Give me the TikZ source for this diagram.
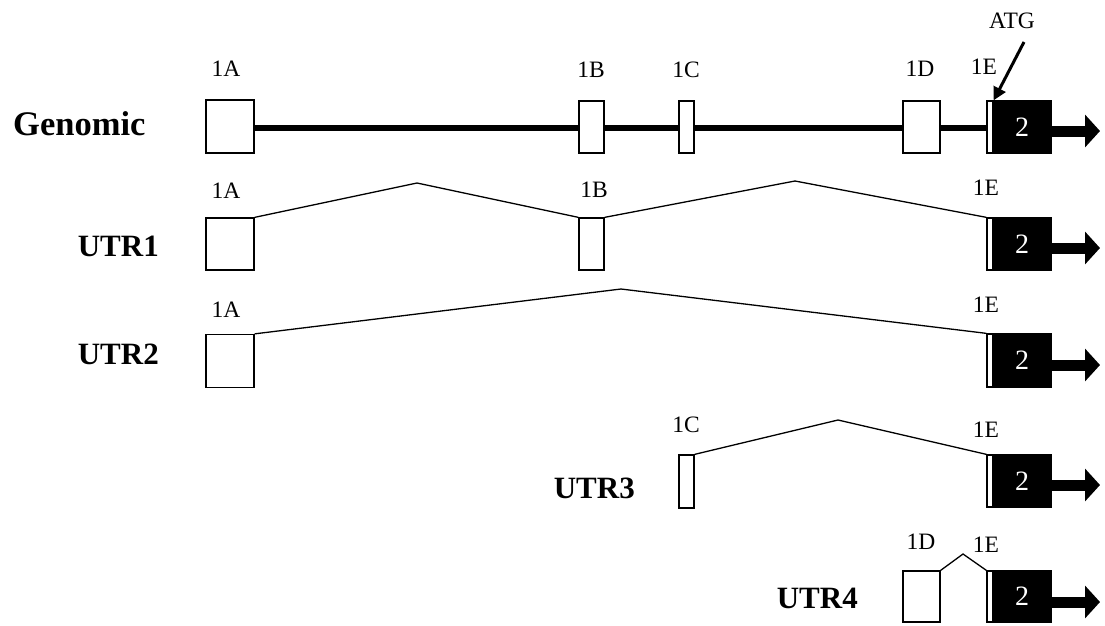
\documentclass[tikz,border=0pt]{standalone}
\usepackage{fontspec}
\setmainfont{Liberation Serif}
\usetikzlibrary{arrows.meta}
\begin{document}
\begin{tikzpicture}[x=1pt,y=-1pt,
  exon/.style={draw,fill=white,line width=1.3pt,inner sep=0pt,minimum width=#1},
  coding/.style={draw,fill=black,line width=1.3pt,inner sep=0pt,minimum width=58pt,text=white,font=\fontsize{28}{28}\selectfont},
  lbl/.style={anchor=base,inner sep=0pt,font=\fontsize{23.5}{23.5}\selectfont},
  rowlbl/.style={anchor=base east,inner sep=0pt,font=\fontsize{31}{31}\selectfont\bfseries},
  intron/.style={line width=1.3pt},
  fwd/.style={line width=11pt,-{Triangle[length=15pt,width=32pt]}}]
\useasboundingbox (0,0) rectangle (1105,625);

% ---------------- Genomic ----------------
\node[rowlbl,anchor=base west,font=\fontsize{34.5}{34.5}\selectfont\bfseries] (tG) at (13,135) {Genomic};
\begin{scope}[every node/.append style={minimum height=52pt}]
\node[exon=48pt,minimum height=53pt] (g1A) at (230,126.5) {};
\node[exon=25pt] (g1B) at (591.5,127) {};
\node[exon=15pt] (g1C) at (686.5,127) {};
\node[exon=37pt] (g1D) at (921.5,127) {};
\node[exon=6pt] (g1E) at (990,127) {};
\node[coding] (g2) at (1022,127) {2};
\end{scope}
\draw[line width=6pt] (g1A.east |- 0,128) -- (g1B.west |- 0,128);
\draw[line width=6pt] (g1B.east |- 0,128) -- (g1C.west |- 0,128);
\draw[line width=6pt] (g1C.east |- 0,128) -- (g1D.west |- 0,128);
\draw[line width=6pt] (g1D.east |- 0,128) -- (g1E.west |- 0,128);
\coordinate (gtip) at (1100,131);
\draw[fwd] (g2.east |- gtip) -- (gtip);
\node[lbl] (lg1A) at (226,76) {1A};
\node[lbl] (lg1B) at (591,77) {1B};
\node[lbl] (lg1C) at (686,77) {1C};
\node[lbl] (lg1D) at (920,76) {1D};
\node[lbl] (lg1E) at (984,74) {1E};
\node[lbl] (atg) at (1012,28) {ATG};
\coordinate (atgstart) at (1024,42);
\draw[line width=3pt,-{Triangle[length=13pt,width=13pt]}] (atgstart) -- (g1E.north east);

% ---------------- UTR1 ----------------
\node[rowlbl] (t1) at (159,256) {UTR1};
\begin{scope}[every node/.append style={minimum height=52pt}]
\node[exon=48pt] (u1A) at (230,244) {};
\node[exon=25pt] (u1B) at (591.5,244) {};
\node[exon=6pt] (u1E) at (990,244) {};
\node[coding] (u12) at (1022,244) {2};
\end{scope}
\coordinate (p1a) at (417,183);
\coordinate (p1b) at (795,181);
\draw[intron] (u1A.north east) -- (p1a) -- (u1B.north west);
\draw[intron] (u1B.north east) -- (p1b) -- (u1E.north west);
\coordinate (u1tip) at (1100,248);
\draw[fwd] (u12.east |- u1tip) -- (u1tip);
\node[lbl] (l11A) at (226,198) {1A};
\node[lbl] (l11B) at (594,197) {1B};
\node[lbl] (l11E) at (986,195) {1E};

% ---------------- UTR2 ----------------
\node[rowlbl] (t2) at (159,364) {UTR2};
\begin{scope}[every node/.append style={minimum height=53pt}]
\node[exon=48pt] (u2A) at (230,361) {};
\node[exon=6pt] (u2E) at (990,360.5) {};
\node[coding] (u22) at (1022,360.5) {2};
\end{scope}
\coordinate (p2) at (621,289);
\draw[intron] (u2A.north east) -- (p2) -- (u2E.north west);
\coordinate (u2tip) at (1100,365);
\draw[fwd] (u22.east |- u2tip) -- (u2tip);
\node[lbl] (l21A) at (226,317) {1A};
\node[lbl] (l21E) at (986,312) {1E};

% ---------------- UTR3 ----------------
\node[rowlbl] (t3) at (635,498) {UTR3};
\begin{scope}[every node/.append style={minimum height=52pt}]
\node[exon=15pt,minimum height=53pt] (u3C) at (686.5,481.5) {};
\node[exon=6pt] (u3E) at (990,481) {};
\node[coding] (u32) at (1022,481) {2};
\end{scope}
\coordinate (p3) at (838,420);
\draw[intron] (u3C.north east) -- (p3) -- (u3E.north west);
\coordinate (u3tip) at (1100,485);
\draw[fwd] (u32.east |- u3tip) -- (u3tip);
\node[lbl] (l31C) at (686,432) {1C};
\node[lbl] (l31E) at (986,437) {1E};

% ---------------- UTR4 ----------------
\node[rowlbl] (t4) at (858,608) {UTR4};
\begin{scope}[every node/.append style={minimum height=51pt}]
\node[exon=37pt] (u4D) at (921.5,596.5) {};
\node[exon=6pt] (u4E) at (990,596.5) {};
\node[coding] (u42) at (1022,596.5) {2};
\end{scope}
\coordinate (p4) at (963,554);
\draw[intron] (u4D.north east) -- (p4) -- (u4E.north west);
\coordinate (u4tip) at (1100,602);
\draw[fwd] (u42.east |- u4tip) -- (u4tip);
\node[lbl] (l41D) at (921,549) {1D};
\node[lbl] (l41E) at (986,552) {1E};
\end{tikzpicture}
\end{document}
